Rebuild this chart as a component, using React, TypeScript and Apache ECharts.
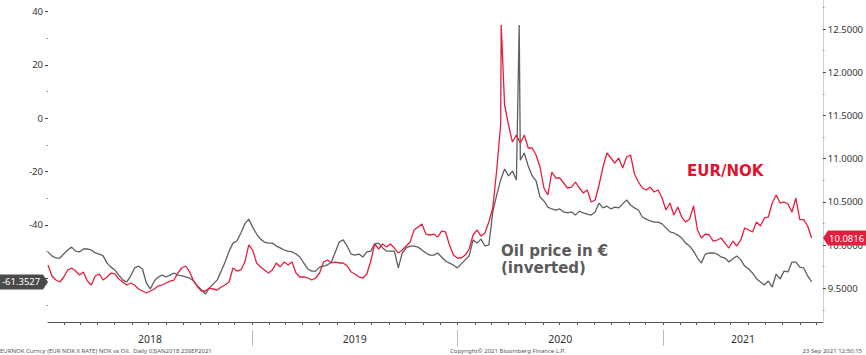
import React, { useEffect, useRef } from "react";
import * as echarts from "echarts";

// Weekly closes starting Wed 03 Jan 2018 (one value per week)
const START_DATE = "2018-01-03";
const END_DATE = "2021-10-12";

// Oil price in EUR, inverted (left axis)
const OIL_INV: number[] = [
  -50.1, -51.6, -52.4, -52.4, -50.9, -49.4, -48.3, -49.8, -50.1, -49.0,
  -49.0, -49.4, -50.5, -50.9, -51.6, -54.3, -55.8, -56.9, -58.8, -60.6,
  -61.4, -59.1, -56.1, -55.4, -56.5, -61.8, -64.0, -61.0, -59.5, -58.8,
  -59.5, -58.8, -58.0, -58.8, -59.1, -59.5, -59.9, -61.0, -62.9, -64.4,
  -65.9, -63.6, -62.1, -60.6, -57.3, -53.9, -49.8, -46.8, -46.0, -43.0,
  -39.6, -37.8, -40.8, -43.4, -45.3, -46.4, -46.8, -46.8, -47.9, -48.6,
  -49.4, -49.8, -50.1, -50.9, -52.0, -54.3, -56.5, -57.3, -57.3, -55.8,
  -55.4, -55.0, -53.9, -50.1, -46.4, -45.6, -47.9, -50.9, -51.3, -50.9,
  -52.0, -50.1, -49.8, -47.1, -46.8, -48.6, -49.8, -49.8, -49.8, -56.1,
  -50.5, -48.6, -47.9, -47.9, -48.3, -49.4, -50.5, -51.3, -51.3, -50.5,
  -52.0, -53.5, -54.3, -55.0, -56.1, -54.6, -53.1, -51.6, -45.6, -46.8,
  -45.3, -47.9, -47.5, -35.1, -28.8, -23.1, -19.0, -21.6, -19.8, -23.1,
  -15.7, -13.0, -17.9, -21.5, -23.5, -29.5, -31.0, -33.3, -34.0, -34.4,
  -34.0, -35.1, -35.5, -35.1, -36.3, -34.8, -35.5, -35.9, -36.3, -35.1,
  -31.8, -33.6, -32.9, -34.0, -33.3, -33.6, -32.1, -30.6, -32.5, -33.6,
  -34.4, -37.0, -37.8, -38.5, -38.9, -38.9, -39.6, -41.1, -42.6, -43.0,
  -43.8, -44.9, -46.8, -47.9, -49.8, -52.4, -54.3, -50.9, -50.5, -50.5,
  -50.9, -52.0, -52.4, -53.9, -52.7, -51.6, -53.1, -55.4, -56.5, -58.0,
  -60.2, -61.4, -62.5, -61.0, -63.3, -58.4, -60.2, -57.3, -57.6, -53.9,
  -53.9, -55.8, -56.1, -59.1, -61.3527,
];

// EUR/NOK (right axis)
const EURNOK: number[] = [
  9.77, 9.642, 9.596, 9.573, 9.631, 9.712, 9.735, 9.7, 9.654, 9.689,
  9.584, 9.538, 9.642, 9.666, 9.596, 9.631, 9.677, 9.666, 9.608, 9.573,
  9.538, 9.561, 9.538, 9.492, 9.469, 9.446, 9.469, 9.492, 9.527, 9.538,
  9.561, 9.584, 9.596, 9.677, 9.735, 9.758, 9.689, 9.584, 9.515, 9.469,
  9.469, 9.503, 9.492, 9.48, 9.515, 9.538, 9.573, 9.735, 9.7, 9.712,
  9.804, 10.001, 9.943, 9.793, 9.747, 9.712, 9.677, 9.712, 9.793, 9.747,
  9.804, 9.77, 9.804, 9.677, 9.631, 9.631, 9.619, 9.596, 9.619, 9.677,
  9.804, 9.828, 9.793, 9.804, 9.793, 9.793, 9.758, 9.689, 9.666, 9.631,
  9.619, 9.666, 9.816, 10.013, 9.955, 10.013, 9.978, 10.013, 9.966, 9.909,
  9.943, 9.99, 10.036, 10.175, 10.21, 10.244, 10.128, 10.117, 10.128, 10.094,
  10.163, 10.152, 10.001, 9.885, 9.851, 9.851, 9.885, 9.955, 10.117, 10.175,
  10.105, 10.14, 10.267, 10.429, 10.869, 11.39, 11.622, 11.39, 11.193, 11.274,
  11.182, 11.274, 11.124, 11.124, 11.043, 10.904, 10.661, 10.58, 10.846, 10.777,
  10.777, 10.719, 10.661, 10.672, 10.73, 10.661, 10.603, 10.638, 10.499, 10.522,
  10.696, 10.904, 11.066, 11.008, 10.95, 11.008, 10.892, 11.02, 11.043, 10.823,
  10.73, 10.661, 10.638, 10.672, 10.615, 10.638, 10.545, 10.406, 10.487, 10.348,
  10.441, 10.325, 10.267, 10.302, 10.453, 10.175, 10.082, 10.128, 10.117, 10.047,
  10.059, 10.082, 10.024, 9.966, 10.047, 9.99, 10.059, 10.198, 10.175, 10.152,
  10.267, 10.221, 10.314, 10.325, 10.487, 10.58, 10.487, 10.499, 10.476, 10.383,
  10.545, 10.294, 10.294, 10.221, 10.0816,
];

// Single-day extremes between weekly closes
const OIL_SPIKES: [string, number][] = [["2020-04-20", 35.0]];
const EURNOK_SPIKES: [string, number][] = [["2020-03-19", 12.548]];

// -60 tick label is hidden behind the last-value tag in the original
const LEFT_TICKS = [-60, -40, -20, 0, 20, 40];
const LEFT_LABELS = [-40, -20, 0, 20, 40];
const LEFT_MINOR = [-70, -50, -30, -10, 10, 30];
const RIGHT_TICKS = [9.5, 10, 10.5, 11, 11.5, 12, 12.5];
const RIGHT_MINOR = [9.25, 9.75, 10.25, 10.75, 11.25, 11.75, 12.25, 12.75];
const YEARS = [2018, 2019, 2020, 2021];

const LEFT_RANGE = [-76.38, 44.36];
const RIGHT_RANGE = [9.11, 12.837];

const RED = "#e41e3f";
const GREY = "#5f5f5f";
const FONT = "Noto Sans";

const DAY = 86400000;

function buildSeries(values: number[], spikes: [string, number][]) {
  const t0 = Date.parse(START_DATE + "T00:00:00Z");
  const pts: [number, number][] = values.map((v, i) => [t0 + i * 7 * DAY, v]);
  spikes.forEach(([d, v]) => pts.push([Date.parse(d + "T00:00:00Z"), v]));
  pts.sort((a, b) => a[0] - b[0]);
  return pts;
}

export default function App() {
  const ref = useRef<HTMLDivElement>(null);

  useEffect(() => {
    if (!ref.current) return;
    const chart = echarts.init(ref.current, undefined, { renderer: "svg" });
    const xMin = Date.parse(START_DATE + "T00:00:00Z");
    const xMax = Date.parse(END_DATE + "T00:00:00Z");

    const monthTicks: number[] = [];
    YEARS.forEach((y) => {
      for (let m = 0; m < 12; m++) {
        const t = Date.UTC(y, m, 1);
        if (t >= xMin && t <= xMax) monthTicks.push(t);
      }
    });
    const yearStarts = YEARS.slice(1).map((y) => Date.UTC(y, 0, 1));
    const yearMids = YEARS.map((y) => {
      const a = Math.max(xMin, Date.UTC(y, 0, 1));
      const b = Math.min(xMax, Date.UTC(y + 1, 0, 1));
      return (a + b) / 2;
    });

    const oilData = buildSeries(OIL_INV, OIL_SPIKES);
    const nokData = buildSeries(EURNOK, EURNOK_SPIKES);

    const labelStyle = { color: "#333", fontFamily: FONT, fontSize: 9.5 };

    chart.setOption({
      animation: false,
      backgroundColor: "#ffffff",
      grid: { left: 48, right: 43, top: 0, bottom: 33, containLabel: false },
      xAxis: [
        {
          type: "value",
          min: xMin,
          max: xMax,
          axisLine: { show: true, onZero: false, lineStyle: { color: "#555", width: 1 } },
          axisTick: { show: true, customValues: monthTicks, length: 3, lineStyle: { color: "#555" } },
          axisLabel: {
            show: true,
            customValues: yearMids,
            formatter: (v: number) => String(new Date(v).getUTCFullYear()),
            color: "#333",
            fontFamily: FONT,
            fontSize: 10.5,
            margin: 11,
          },
          splitLine: { show: false },
        },
        {
          type: "value",
          min: xMin,
          max: xMax,
          position: "bottom",
          offset: 8,
          axisLine: { show: false, onZero: false },
          axisTick: { show: true, customValues: yearStarts, length: 16, lineStyle: { color: "#bbb" } },
          axisLabel: { show: false },
          splitLine: { show: false },
        },
      ],
      yAxis: [
        {
          type: "value",
          position: "left",
          min: LEFT_RANGE[0],
          max: LEFT_RANGE[1],
          axisLine: { show: false, onZero: false },
          axisTick: { show: true, customValues: LEFT_TICKS, length: 3, lineStyle: { color: "#444" } },
          axisLabel: { show: true, customValues: LEFT_LABELS, margin: 5, ...labelStyle },
          splitLine: { show: false },
        },
        {
          type: "value",
          position: "left",
          min: LEFT_RANGE[0],
          max: LEFT_RANGE[1],
          axisLine: { show: false, onZero: false },
          axisTick: { show: true, customValues: LEFT_MINOR, length: 1.5, lineStyle: { color: "#888" } },
          axisLabel: { show: false },
          splitLine: { show: false },
        },
        {
          type: "value",
          position: "right",
          min: RIGHT_RANGE[0],
          max: RIGHT_RANGE[1],
          axisLine: { show: true, onZero: false, lineStyle: { color: "#d0d0d0" } },
          axisTick: { show: true, customValues: RIGHT_TICKS, length: 3, lineStyle: { color: "#444" } },
          axisLabel: {
            show: true,
            customValues: RIGHT_TICKS,
            margin: 5,
            formatter: (v: number) => v.toFixed(4),
            ...labelStyle,
          },
          splitLine: { show: false },
        },
        {
          type: "value",
          position: "right",
          min: RIGHT_RANGE[0],
          max: RIGHT_RANGE[1],
          axisLine: { show: false, onZero: false },
          axisTick: { show: true, customValues: RIGHT_MINOR, length: 1.5, lineStyle: { color: "#888" } },
          axisLabel: { show: false },
          splitLine: { show: false },
        },
      ],
      series: [
        {
          name: "Oil price in € (inverted)",
          type: "line",
          xAxisIndex: 0,
          yAxisIndex: 0,
          data: oilData,
          symbol: "none",
          lineStyle: { color: GREY, width: 1.3 },
          z: 2,
        },
        {
          name: "EUR/NOK",
          type: "line",
          xAxisIndex: 0,
          yAxisIndex: 2,
          data: nokData,
          symbol: "none",
          lineStyle: { color: RED, width: 1.3 },
          z: 3,
        },
      ],
    });

    const lastOil = OIL_INV[OIL_INV.length - 1];
    const lastNok = EURNOK[EURNOK.length - 1];
    const yo = chart.convertToPixel({ yAxisIndex: 0 }, lastOil) as number;
    const yn = chart.convertToPixel({ yAxisIndex: 2 }, lastNok) as number;
    const W = 866;
    const rightEdge = W - 43;

    chart.setOption({
      graphic: [
        {
          type: "polygon",
          shape: { points: [[0, yo - 7.5], [43, yo - 7.5], [48, yo], [43, yo + 7.5], [0, yo + 7.5]] },
          style: { fill: "#4a4a4a" },
          z: 10,
        },
        {
          type: "text",
          x: 2,
          y: yo,
          style: { text: lastOil.toFixed(4), fill: "#ffffff", font: `9.5px "${FONT}"`, align: "left", verticalAlign: "middle" },
          z: 11,
        },
        {
          type: "polygon",
          shape: { points: [[rightEdge, yn], [rightEdge + 5, yn - 7.5], [W, yn - 7.5], [W, yn + 7.5], [rightEdge + 5, yn + 7.5]] },
          style: { fill: RED },
          z: 10,
        },
        {
          type: "text",
          x: rightEdge + 6,
          y: yn,
          style: { text: lastNok.toFixed(4), fill: "#ffffff", font: `9.5px "${FONT}"`, align: "left", verticalAlign: "middle" },
          z: 11,
        },
        {
          type: "text",
          x: 687,
          y: 171,
          style: { text: "EUR/NOK", fill: "#e0142d", font: 'bold 15px "DejaVu Sans"', align: "left", verticalAlign: "middle" },
        },
        {
          type: "text",
          x: 501,
          y: 251,
          style: { text: "Oil price in €", fill: "#5b5b5b", font: 'bold 15px "DejaVu Sans"', align: "left", verticalAlign: "middle" },
        },
        {
          type: "text",
          x: 501,
          y: 268,
          style: { text: "(inverted)", fill: "#5b5b5b", font: 'bold 15px "DejaVu Sans"', align: "left", verticalAlign: "middle" },
        },
        {
          type: "text",
          x: 0,
          y: 351,
          style: {
            text: "EURNOK Curncy (EUR NOK X RATE) NOK vs Oil.  Daily 03JAN2018 23SEP2021",
            fill: "#555",
            font: `6px "${FONT}"`,
            align: "left",
            verticalAlign: "middle",
          },
        },
        {
          type: "text",
          x: 450,
          y: 351,
          style: { text: "Copyright© 2021 Bloomberg Finance L.P.", fill: "#555", font: `6px "${FONT}"`, align: "left", verticalAlign: "middle" },
        },
        {
          type: "text",
          x: 862,
          y: 351,
          style: { text: "23 Sep 2021 12:50:15", fill: "#555", font: `6px "${FONT}"`, align: "right", verticalAlign: "middle" },
        },
      ],
    });

    return () => chart.dispose();
  }, []);

  return (
    <div
      ref={ref}
      style={{ position: "fixed", left: 0, top: 0, width: 866, height: 355, background: "#fff" }}
    />
  );
}
